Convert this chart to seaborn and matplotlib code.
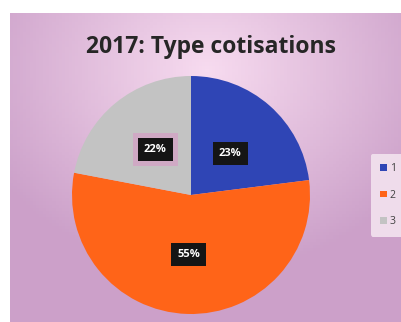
import numpy as np
import matplotlib
matplotlib.use("Agg")
import matplotlib.pyplot as plt
import seaborn as sns
from matplotlib.patches import Patch

categories = ["1", "2", "3"]
values = [23, 55, 22]
title = "2017: Type cotisations"

sns.set_theme(style="white")
plt.rcParams['font.family'] = ['Open Sans', 'DejaVu Sans']

colors = ["#2f45b5", "#ff6418", "#c3c3c3"]

fig = plt.figure(figsize=(4.01, 3.22), dpi=100, facecolor="white")

# background panel with gradient
bg = fig.add_axes([10/401, 0, 391/401, 1 - 13/322])
bg.set_axis_off()
h, w = 100, 120
yy, xx = np.mgrid[0:h, 0:w]
d = np.sqrt(((xx - 60) / 75.0) ** 2 + ((yy - 18) / 65.0) ** 2)
t = np.clip(d, 0, 1)
c1 = np.array([0.97, 0.86, 0.94])
c2 = np.array([0.80, 0.63, 0.79])
img = c1[None, None, :] * (1 - t[..., None]) + c2[None, None, :] * t[..., None]
bg.imshow(img, aspect="auto", extent=[0, 1, 0, 1], origin="upper")
bg.set_xlim(0, 1); bg.set_ylim(0, 1)

# pie
r_px = 119
cx, cy = 191, 195
ax = fig.add_axes([(cx - r_px) / 401, 1 - (cy + r_px) / 322, 2 * r_px / 401, 2 * r_px / 322])
wedges, _ = ax.pie(values, colors=colors, startangle=90, counterclock=False,
                   radius=1.0, wedgeprops=dict(linewidth=0))
ax.set_xlim(-1, 1); ax.set_ylim(-1, 1)
ax.set_aspect("auto")
ax.set_axis_off()

label_pos = [(0.33, 0.35), (-0.02, -0.50), (-0.30, 0.38)]
for i, (v, (lx, ly)) in enumerate(zip(values, label_pos)):
    if i == 2:
        ax.text(lx, ly, f"{v}%", ha="center", va="center", color="#cfa9c4",
                fontsize=8, fontweight="bold",
                bbox=dict(boxstyle="square,pad=1.0", fc="#cfa9c4", ec="none"))
    ax.text(lx, ly, f"{v}%", ha="center", va="center", color="white",
            fontsize=8, fontweight="bold",
            bbox=dict(boxstyle="square,pad=0.55", fc="#151515", ec="none"))

fig.text(211 / 401, 1 - 47 / 322, title, ha="center", va="center",
         fontsize=16.5, fontweight="bold", color="#262626")

# legend
handles = [Patch(facecolor=c, edgecolor="none") for c in colors]
leg = fig.legend(handles, categories, loc="center left",
                 bbox_to_anchor=(371 / 401, 1 - 195 / 322), frameon=True,
                 fontsize=7.5, handlelength=0.6, handleheight=0.6, handletextpad=0.3,
                 labelspacing=1.5, borderpad=0.9, borderaxespad=0)
leg.get_frame().set_facecolor("#f3e3ef")
leg.get_frame().set_edgecolor("none")
leg.get_frame().set_alpha(0.9)
for txt in leg.get_texts():
    txt.set_color("#404040")

fig.savefig("out.png", dpi=100, facecolor="white")
